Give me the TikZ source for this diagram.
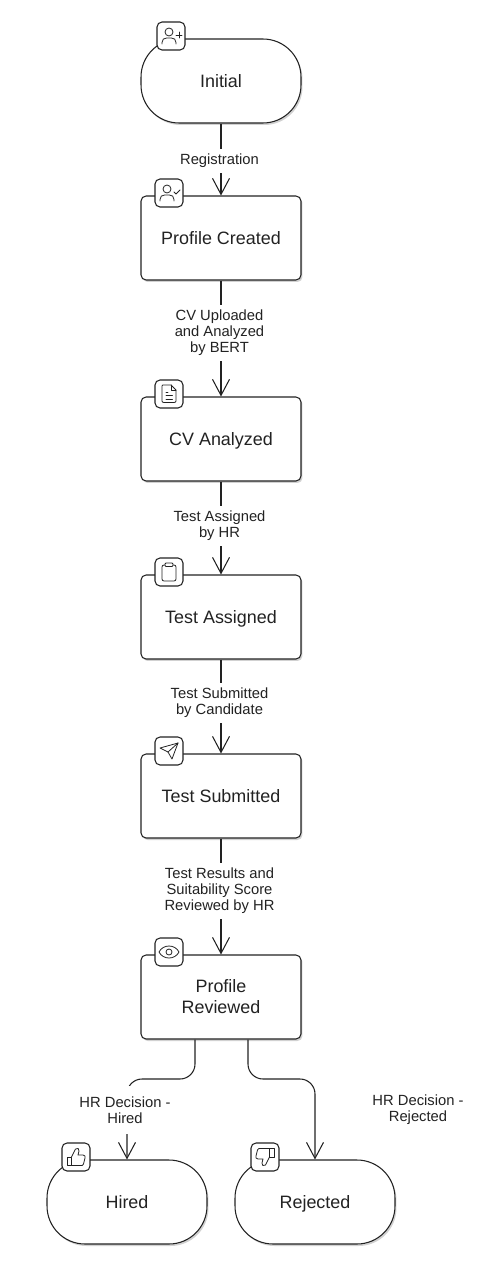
\documentclass[tikz,border=0pt]{standalone}
\usepackage{fontspec}
\setmainfont{Liberation Sans}
\usetikzlibrary{arrows.meta,calc,shadows}
\definecolor{inkgray}{HTML}{222222}
\tikzset{
	state/.style={draw=inkgray, fill=white, line width=0.6pt, minimum width=3.2cm, minimum height=1.68cm,
		rounded corners=0.1cm, align=center, text=inkgray, font=\fontsize{10.2}{12}\selectfont,
		drop shadow={shadow xshift=0.03cm, shadow yshift=-0.04cm, fill=black, opacity=0.18}},
	oneline/.style={state, text height=10pt, text depth=2.2pt},
	endstate/.style={oneline, rounded corners=0.76cm},
	iconbox/.style={draw=inkgray, fill=white, line width=0.6pt, minimum size=0.56cm, inner sep=0pt, rounded corners=0.1cm},
	edge/.style={draw=inkgray, line width=0.6pt, -{Straight Barb[length=0.32cm,width=0.34cm]}},
	elabel/.style={fill=white, inner xsep=2pt, inner ysep=3pt, align=center, text=inkgray, font=\fontsize{8.4}{9.1}\selectfont},
	glyph/.style={draw=inkgray, line width=0.45pt, line join=round, line cap=round}
}
% icons, drawn round the centre of their box
\def\personicon{
	\draw[glyph] (-2,-4) circle (4);
	\draw[glyph] (-9,8) -- (-9,6.5) .. controls (-9,3.5) and (-7,2) .. (-4.5,2) -- (0.5,2) .. controls (3,2) and (5,3.5) .. (5,6.5) -- (5,8);
}
\def\thumbicon{
	\draw[glyph] (-9,0) rectangle (-4.5,8.5);
	\draw[glyph] (-4.5,0) -- (-0.5,-8) .. controls (1.5,-10) and (3.5,-8) .. (3,-6) -- (2,-2) -- (7,-2) .. controls (9,-2) and (9.5,-0.5) .. (9,1) -- (7.5,7) .. controls (7,8.5) and (6,8.5) .. (5,8.5) -- (-4.5,8.5);
}

\begin{document}
\begin{tikzpicture}[x=0.02cm, y=-0.02cm]
	\useasboundingbox (0,0) rectangle (481,1280);
	
	% states
	\node[endstate] (initial) at (221,81) {Initial};
	\node[oneline] (created) at (221,238) {Profile Created};
	\node[oneline] (analyzed) at (221,439) {CV Analyzed};
	\node[oneline] (assigned) at (221,617) {Test Assigned};
	\node[oneline] (submitted) at (221,796) {Test Submitted};
	\node[state] (reviewed) at (221,997) {Profile\\Reviewed};
	\node[endstate] (hired) at (127,1202) {Hired};
	\node[endstate] (rejected) at (315,1202) {Rejected};
	
	% transitions
	\draw[edge] (initial) -- node[elabel, pos=0.52, xshift=-0.03cm] (lreg) {Registration} (created);
	\draw[edge] (created) -- node[elabel, pos=0.45, xshift=-0.03cm] (lcv) {CV Uploaded\\and Analyzed\\by BERT} (analyzed);
	\draw[edge] (analyzed) -- node[elabel, pos=0.48, xshift=-0.03cm] (ltest) {Test Assigned\\by HR} (assigned);
	\draw[edge] (assigned) -- node[elabel, pos=0.46, xshift=-0.03cm] (lsub) {Test Submitted\\by Candidate} (submitted);
	\draw[edge] (submitted) -- node[elabel, pos=0.45, xshift=-0.03cm] (lres) {Test Results and\\Suitability Score\\Reviewed by HR} (reviewed);
	
	\coordinate (outhired) at ($(reviewed.south)+(-26,0)$);
	\coordinate (outrejected) at ($(reviewed.south)+(27,0)$);
	\coordinate (benthired) at (127,1079);
	\coordinate (bentrejected) at (315,1079);
	\draw[edge, rounded corners=0.3cm] (outhired) |- (benthired) -- (hired.north);
	\draw[edge, rounded corners=0.3cm] (outrejected) |- (bentrejected) -- (rejected.north);
	\node[elabel, inner ysep=6pt] (lhired) at (125,1110) {HR Decision -\\Hired};
	\node[elabel] (lrejected) at (418,1110) {HR Decision -\\Rejected};
	
	% icon boxes
	\node[iconbox] (icinitial) at (171,36) {};
	\node[iconbox] (iccreated) at (169,193) {};
	\node[iconbox] (icanalyzed) at (169,394) {};
	\node[iconbox] (icassigned) at (169,572) {};
	\node[iconbox] (icsubmitted) at (169,751) {};
	\node[iconbox] (icreviewed) at (169,952) {};
	\node[iconbox] (ichired) at (76,1157) {};
	\node[iconbox] (icrejected) at (265,1157) {};
	
	\begin{scope}[shift={(icinitial.center)}]
		\personicon
		\draw[glyph] (5,-1) -- (11,-1);
		\draw[glyph] (8,-4) -- (8,2);
	\end{scope}
	\begin{scope}[shift={(iccreated.center)}]
		\personicon
		\draw[glyph] (5,-1) -- (7,1) -- (11,-3);
	\end{scope}
	\begin{scope}[shift={(icanalyzed.center)}]
		\draw[glyph] (-7,-8) .. controls (-7,-9) and (-6,-9) .. (-5,-9) -- (2,-9) -- (7,-4) -- (7,7) .. controls (7,8) and (6,8.5) .. (5,8.5) -- (-5,8.5) .. controls (-6,8.5) and (-7,8) .. (-7,7) -- cycle;
		\draw[glyph] (2,-9) -- (2,-4) -- (7,-4);
		\draw[glyph] (-3,-2) -- (-1,-2);
		\draw[glyph] (-3,1.5) -- (3.5,1.5);
		\draw[glyph] (-3,5) -- (3.5,5);
	\end{scope}
	\begin{scope}[shift={(icassigned.center)}]
		\draw[glyph, rounded corners=0.04cm] (-7,-7) rectangle (7,9);
		\draw[glyph, fill=white, rounded corners=0.02cm] (-4,-9) rectangle (4,-5.5);
	\end{scope}
	\begin{scope}[shift={(icsubmitted.center)}]
		\draw[glyph] (9,-8) -- (-9,-3) -- (-1,1) -- (3,8) -- cycle;
		\draw[glyph] (-1,1) -- (9,-8);
	\end{scope}
	\begin{scope}[shift={(icreviewed.center)}]
		\draw[glyph] (-10,0) .. controls (-6,-8) and (6,-8) .. (10,0) .. controls (6,8) and (-6,8) .. (-10,0) -- cycle;
		\draw[glyph] (0,0) circle (3);
	\end{scope}
	\begin{scope}[shift={(ichired.center)}]
		\thumbicon
	\end{scope}
	\begin{scope}[shift={(icrejected.center)}, rotate=180]
		\thumbicon
	\end{scope}
\end{tikzpicture}
\end{document}
